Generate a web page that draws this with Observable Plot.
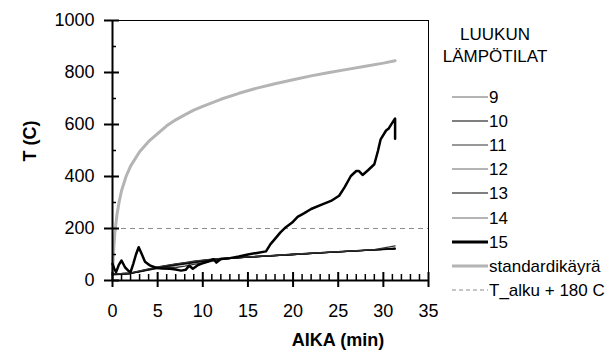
<!DOCTYPE html>
<html>
<head>
<meta charset="utf-8">
<script src="https://cdn.jsdelivr.net/npm/d3@7"></script>
<script src="https://cdn.jsdelivr.net/npm/@observablehq/plot@0.6"></script>
<style>
  html, body { margin: 0; padding: 0; background: #fff; }
  #wrap { position: relative; width: 611px; height: 360px; font-family: "Liberation Sans", Arial, sans-serif; color: #000; }
  #wrap svg { overflow: visible; font-family: "Liberation Sans", Arial, sans-serif; }
  #wrap svg.overlay { position: absolute; left: 0; top: 0; background: none !important; pointer-events: none; }
  .abs { position: absolute; white-space: nowrap; }
</style>
</head>
<body>
<div id="wrap"></div>
<script>
// ---- data ----
const xTicks = [0, 5, 10, 15, 20, 25, 30, 35];
const xMinorTicks = [1,2,3,4,6,7,8,9,11,12,13,14,16,17,18,19,21,22,23,24,26,27,28,29,31,32,33,34];
const yTicks = [0, 200, 400, 600, 800, 1000];
const yMinorTicks = [100, 300, 500, 700, 900];

const xTitle = "AIKA (min)";
const yTitle = "T (C)";
const legendTitle = ["LUUKUN", "LÄMPÖTILAT"];

// standard fire curve (standardikäyrä)
const tStd = [0, 0.1, 0.25, 0.5, 0.75, 1, 1.5, 2, 3, 4, 5, 6, 7, 8, 9, 10, 12, 14, 16, 18, 20, 22, 24, 26, 28, 30, 31.3];
const vStd = [20, 100, 180, 255, 305, 345, 400, 440, 495, 535, 565, 595, 618, 637, 655, 670, 697, 720, 740, 757, 772, 787, 800, 812, 824, 836, 845];

// T_alku + 180 C
const tAlku180 = 200;

// hatch temperatures 9..14 (common time base)
const tLow = [0, 1, 2, 3, 4, 5, 6, 7, 8, 9, 10, 11, 12, 13, 15, 17, 20, 23, 26, 29, 31.3];
const s9  = [25, 26, 28, 36, 44, 51, 57, 63, 68, 73, 77, 81, 84, 86, 90, 94, 100, 106, 112, 118, 122];
const s10 = [24, 25, 27, 35, 43, 50, 56, 62, 67, 72, 76, 80, 83, 85, 90, 94, 100, 106, 112, 118, 123];
const s11 = [22, 24, 27, 33, 40, 47, 53, 58, 63, 68, 73, 78, 82, 85, 90, 94, 100, 106, 112, 118, 121];
const s12 = [26, 26, 28, 35, 42, 48, 52, 50, 55, 62, 68, 74, 80, 85, 90, 95, 101, 107, 113, 119, 124];
const s13 = [25, 25, 27, 34, 42, 49, 55, 61, 66, 71, 76, 80, 83, 86, 90, 94, 100, 106, 112, 118, 123];
const s14 = [26, 27, 29, 37, 45, 52, 58, 64, 69, 74, 78, 82, 85, 87, 91, 95, 101, 107, 113, 119, 133];

// hatch temperature 15
const t15 = [0, 0.2, 0.4, 0.7, 1.0, 1.4, 1.8, 2.0, 2.3, 2.6, 2.9, 3.2, 3.6, 3.9, 4.2, 4.9, 5.5, 6.4, 7.0, 7.6, 8.1, 8.5, 8.9, 9.4, 9.8, 10.5, 11.2, 11.5, 12.0, 13.0, 14.0, 15.0, 16.0, 17.0, 17.5, 18.0, 18.6, 19.2, 19.9, 20.5, 21.2, 22.0, 23.1, 24.2, 25.1, 25.7, 26.4, 27.0, 27.3, 27.7, 28.3, 29.0, 29.4, 29.7, 30.3, 30.6, 31.0, 31.3, 31.3];
const v15 = [64, 45, 32, 60, 77, 50, 36, 32, 64, 100, 128, 105, 72, 64, 57, 48, 46, 45, 42, 38, 41, 57, 45, 58, 64, 72, 82, 69, 83, 86, 92, 100, 106, 112, 140, 160, 185, 205, 223, 245, 258, 275, 291, 306, 326, 358, 402, 421, 421, 406, 424, 447, 498, 543, 577, 585, 607, 623, 545];

const legendLabels = ["9", "10", "11", "12", "13", "14", "15", "standardikäyrä", "T_alku + 180 C"];

// ---- styles ----
const series = [
  {name: "9",  t: tLow, v: s9,  stroke: "#333333", width: 1.3},
  {name: "10", t: tLow, v: s10, stroke: "#000000", width: 1.3},
  {name: "11", t: tLow, v: s11, stroke: "#1a1a1a", width: 1.3},
  {name: "12", t: tLow, v: s12, stroke: "#333333", width: 1.3},
  {name: "13", t: tLow, v: s13, stroke: "#000000", width: 1.3},
  {name: "14", t: tLow, v: s14, stroke: "#333333", width: 1.3},
  {name: "15", t: t15,  v: v15, stroke: "#000000", width: 2.5}
];
const legendSwatch = ["#6a6a6a", "#000000", "#333333", "#6a6a6a", "#000000", "#6a6a6a", "#000000"];
const stdStyle = {stroke: "#b4b4b4", width: 3};
const dashStyle = {stroke: "#8c8c8c", width: 1, dash: "5,4"};

const toRows = (t, v) => t.map((d, i) => ({t: d, v: v[i]}));

const dims = {width: 611, height: 360, marginLeft: 112, marginRight: 183, marginTop: 20, marginBottom: 80};

// main chart: frame, reference line, curves, tick labels
const chart = Plot.plot({
  ...dims,
  x: {domain: [0, 35], label: null},
  y: {domain: [0, 1000], label: null},
  marks: [
    Plot.frame({stroke: "black", strokeWidth: 1}),
    Plot.ruleY([tAlku180], {stroke: dashStyle.stroke, strokeWidth: dashStyle.width, strokeDasharray: dashStyle.dash}),
    Plot.line(toRows(tStd, vStd), {x: "t", y: "v", stroke: stdStyle.stroke, strokeWidth: stdStyle.width}),
    ...series.map(s => Plot.line(toRows(s.t, s.v), {x: "t", y: "v", stroke: s.stroke, strokeWidth: s.width, strokeLinejoin: "round"})),
    Plot.axisX({ticks: xTicks, tickSize: 0, tickPadding: 24, fontSize: 18, tickFormat: d => String(d), label: null}),
    Plot.axisY({ticks: yTicks, tickSize: 0, tickPadding: 18, fontSize: 18, tickFormat: d => String(d), label: null})
  ]
});

// overlay chart with same scales: axis lines and tick marks
const ticksChart = Plot.plot({
  ...dims,
  x: {domain: [0, 35], axis: null},
  y: {domain: [0, 1000], axis: null},
  marks: [
    Plot.ruleX([0], {stroke: "black", strokeWidth: 2}),
    Plot.ruleY([0], {stroke: "black", strokeWidth: 2}),
    Plot.ruleX(xTicks, {x: d => d, y1: 0, y2: 0, insetTop: 7, insetBottom: 8, stroke: "black", strokeWidth: 2}),
    Plot.ruleX(xMinorTicks, {x: d => d, y1: 0, y2: 0, insetTop: 0, insetBottom: 6, stroke: "black", strokeWidth: 1.5}),
    Plot.ruleY(yTicks, {y: d => d, x1: 0, x2: 0, insetLeft: -8, insetRight: -7, stroke: "black", strokeWidth: 2}),
    Plot.ruleY(yMinorTicks, {y: d => d, x1: 0, x2: 0, insetLeft: 4, insetRight: 0, stroke: "black", strokeWidth: 1.5})
  ]
});
ticksChart.classList.add("overlay");

const wrap = document.getElementById("wrap");
wrap.appendChild(chart);

function addText(txt, css) {
  const d = document.createElement("div");
  d.className = "abs";
  d.textContent = txt;
  Object.assign(d.style, css);
  wrap.appendChild(d);
  return d;
}

// axis titles
addText(xTitle, {left: "338px", top: "340px", transform: "translate(-50%,-50%)", fontWeight: "bold", fontSize: "18px"});
addText(yTitle, {left: "30px", top: "141px", transform: "translate(-50%,-50%) rotate(-90deg)", fontWeight: "bold", fontSize: "18px"});

// legend
addText(legendTitle[0], {left: "495px", top: "35px", transform: "translate(-50%,-50%)", fontSize: "17px"});
addText(legendTitle[1], {left: "495px", top: "57px", transform: "translate(-50%,-50%)", fontSize: "17px"});

const legendStyles = [
  ...series.map((s, i) => ({stroke: legendSwatch[i], width: s.width >= 2 ? 3 : 1.2, dash: null})),
  {stroke: stdStyle.stroke, width: stdStyle.width, dash: null},
  {stroke: dashStyle.stroke, width: dashStyle.width, dash: dashStyle.dash}
];
legendLabels.forEach((lab, i) => {
  const cy = 96.5 + i * 24.2;
  const st = legendStyles[i];
  const sw = document.createElementNS("http://www.w3.org/2000/svg", "svg");
  sw.setAttribute("width", "36");
  sw.setAttribute("height", "10");
  sw.style.position = "absolute";
  sw.style.left = "452px";
  sw.style.top = (cy - 5) + "px";
  const ln = document.createElementNS("http://www.w3.org/2000/svg", "line");
  ln.setAttribute("x1", "0"); ln.setAttribute("x2", "36");
  ln.setAttribute("y1", "5"); ln.setAttribute("y2", "5");
  ln.setAttribute("stroke", st.stroke);
  ln.setAttribute("stroke-width", st.width);
  if (st.dash) ln.setAttribute("stroke-dasharray", "4,3");
  sw.appendChild(ln);
  wrap.appendChild(sw);
  addText(lab, {left: "489px", top: cy + "px", transform: "translateY(-50%)", fontSize: "17px", lineHeight: "1"});
});

// tick overlay goes on top of everything
wrap.appendChild(ticksChart);
</script>
</body>
</html>
